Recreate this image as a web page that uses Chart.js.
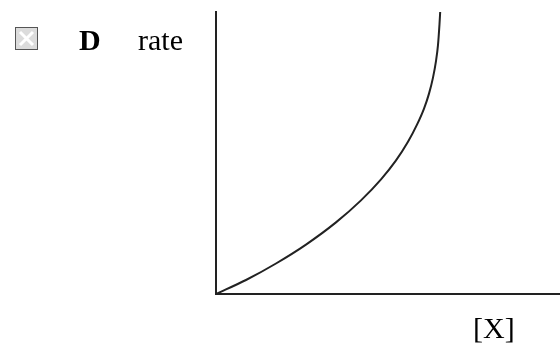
<!DOCTYPE html>
<html>
<head>
<meta charset="utf-8">
<script src="https://cdn.jsdelivr.net/npm/chart.js@4"></script>
<style>
  html, body { margin: 0; padding: 0; background: #ffffff; }
  #wrap { width: 560px; height: 347px; }
</style>
</head>
<body>
<div id="wrap"><canvas id="rateChart"></canvas></div>
<script>
// curve (arbitrary units, 0-100 on both axes)
const concX = [0, 8.72, 17.44, 26.16, 34.88, 42.15, 47.97, 52.33, 55.81, 58.43, 60.47, 61.92, 63.08, 63.95, 64.53, 64.97, 65.17];
const rateY = [0, 4.96, 10.82, 17.52, 25.39, 33.19, 40.64, 47.38, 53.97, 60.04, 65.74, 71.06, 76.74, 82.59, 88.26, 95.71, 100];
const xLabel = "[X]";
const yLabelBold = "D";
const yLabel = "rate";

const ink = "#222222";
const serif = "'Liberation Serif', 'Times New Roman', serif";

const points = concX.map((x, i) => ({ x: x, y: rateY[i] }));

// broken-image icon and the labels
const labelsPlugin = {
    id: "labels",
    afterDraw(chart) {
        const ctx = chart.ctx;
        ctx.save();

        ctx.fillStyle = "#dcdcdc";
        ctx.fillRect(15, 27, 23, 23);
        ctx.strokeStyle = "#555555";
        ctx.lineWidth = 1;
        ctx.strokeRect(15.5, 27.5, 22, 22);
        ctx.strokeStyle = "#ffffff";
        ctx.lineWidth = 3;
        ctx.beginPath();
        ctx.moveTo(20, 32); ctx.lineTo(33, 45);
        ctx.moveTo(33, 32); ctx.lineTo(20, 45);
        ctx.stroke();

        ctx.fillStyle = "#000000";
        ctx.textBaseline = "alphabetic";
        ctx.textAlign = "left";
        ctx.font = "bold 30px " + serif;
        ctx.fillText(yLabelBold, 79, 50);
        ctx.font = "30px " + serif;
        ctx.fillText(yLabel, 138, 50);
        ctx.fillText(xLabel, 473, 338);
        ctx.restore();
    }
};

new Chart(document.getElementById("rateChart"), {
    type: "line",
    data: {
        datasets: [{
            data: points,
            borderColor: ink,
            borderWidth: 2,
            pointRadius: 0,
            fill: false,
            cubicInterpolationMode: "monotone",
            clip: false
        }]
    },
    options: {
        responsive: true,
        maintainAspectRatio: false,
        animation: false,
        layout: {
            padding: { left: 216, top: 12, right: 0, bottom: 53 }
        },
        plugins: {
            legend: { display: false },
            tooltip: { enabled: false }
        },
        scales: {
            x: {
                type: "linear",
                min: 0,
                max: 100,
                border: { display: true, color: ink, width: 2 },
                grid: { display: false, drawTicks: false },
                ticks: { display: false }
            },
            y: {
                min: 0,
                max: 100,
                border: { display: true, color: ink, width: 2 },
                grid: { display: false, drawTicks: false },
                ticks: { display: false }
            }
        }
    },
    plugins: [labelsPlugin]
});
</script>
</body>
</html>
